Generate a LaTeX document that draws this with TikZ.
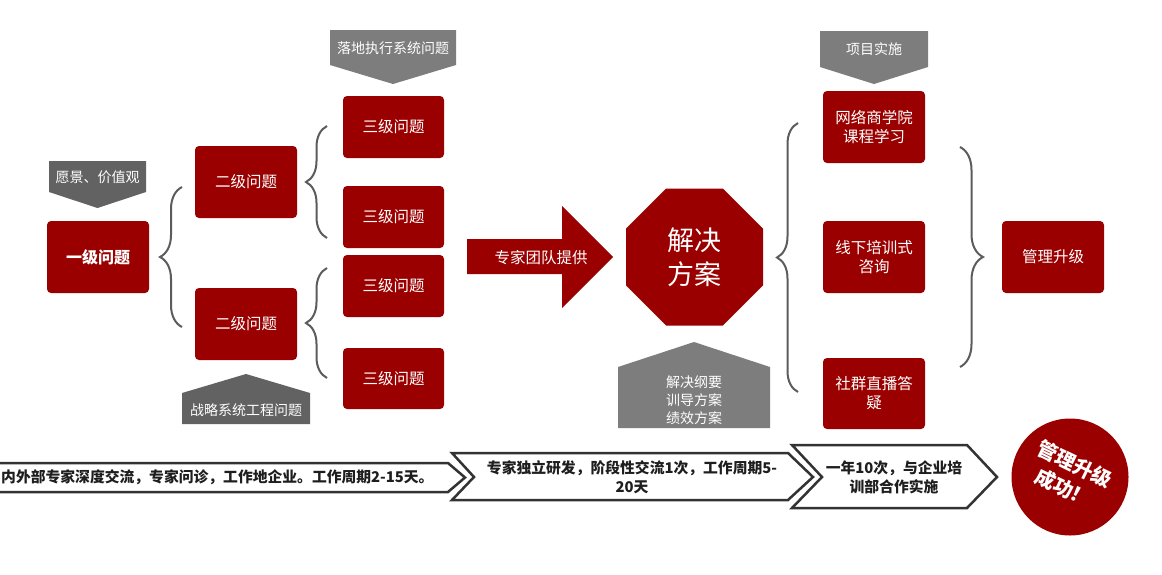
\documentclass[tikz,border=0pt]{standalone}
\usepackage{fontspec}
\setmainfont{Noto Sans CJK SC}
\usetikzlibrary{shapes.geometric,decorations.pathreplacing}
\definecolor{boxred}{RGB}{155,0,0}
\definecolor{tagdark}{RGB}{98,98,98}
\definecolor{taglight}{RGB}{125,125,125}
\definecolor{bracegray}{RGB}{92,92,92}
\definecolor{bandline}{RGB}{51,51,51}
\definecolor{bandtxt}{RGB}{30,30,30}
\begin{document}
\begin{tikzpicture}[x=1pt,y=-1pt,
  redbox/.style={fill=boxred, rounded corners=4pt, text=white, minimum width=102pt, minimum height=72pt, inner sep=0pt, align=center, font=\fontsize{15.5}{19}\selectfont},
  tagtext/.style={text=white, font=\fontsize{14}{18}\selectfont, inner sep=0pt, align=center},
  bracestyle/.style={draw=bracegray, line width=2pt, decorate, decoration={brace, amplitude=22pt}},
  band/.style={draw=bandline, line width=2.5pt, fill=white, line join=miter},
  bandtext/.style={font=\bfseries\fontsize{14.8}{19}\selectfont, text=bandtxt, inner sep=0pt, align=center},
]
\useasboundingbox (0,0) rectangle (1162,574);
\fill[white] (0,0) rectangle (1162,574);

% ---------- tags (pentagons) ----------
\fill[tagdark] (49,161) -- (146,161) -- (146,192) -- (97.5,208) -- (49,192) -- cycle;
\node[tagtext] (tagvision) at (97.5,177) {愿景、价值观};
\fill[tagdark] (182,393) -- (246,374) -- (310,393) -- (310,424) -- (182,424) -- cycle;
\node[tagtext] (tagstrat) at (246,410) {战略系统工程问题};
\fill[taglight] (330,30) -- (456,30) -- (456,65) -- (393,84) -- (330,65) -- cycle;
\node[tagtext] (tagexec) at (393,48) {落地执行系统问题};
\fill[taglight] (820,31) -- (928,31) -- (928,67) -- (874,84) -- (820,67) -- cycle;
\node[tagtext] (tagproj) at (874,49) {项目实施};
\fill[taglight] (618,367) -- (694,342) -- (770,367) -- (770,428) -- (618,428) -- cycle;
\node[tagtext] (tagsol) at (694,400) {解决纲要\\训导方案\\绩效方案};

% ---------- boxes ----------
\node[redbox, font=\bfseries\fontsize{16}{19}\selectfont] (l1) at (98,257) {一级问题};
\node[redbox] (l2a) at (246,182) {二级问题};
\node[redbox] (l2b) at (246,324) {二级问题};
\node[redbox, minimum width=101pt, minimum height=62pt] (l3a) at (393.5,127) {三级问题};
\node[redbox, minimum width=101pt, minimum height=62pt] (l3b) at (393.5,217) {三级问题};
\node[redbox, minimum width=101pt, minimum height=62pt] (l3c) at (393.5,286) {三级问题};
\node[redbox, minimum width=101pt, minimum height=61pt] (l3d) at (393.5,378.5) {三级问题};

\node[redbox] (r1) at (874,127) {网络商学院\\课程学习};
\node[redbox] (r2) at (874,257) {线下培训式\\咨询};
\node[redbox, minimum height=71pt] (r3) at (874,393.5) {社群直播答\\疑};
\node[redbox] (up) at (1053,257) {管理升级};

% ---------- arrow ----------
\fill[boxred] (467,239) -- (562,239) -- (562,206) -- (613,257) -- (562,308) -- (562,274) -- (467,274) -- cycle;
\node[text=white, font=\fontsize{15.5}{19}\selectfont, inner sep=0pt] (arrowtext) at (541,258) {专家团队提供};

% ---------- octagon ----------
\node[regular polygon, regular polygon sides=8, minimum size=148.3pt, fill=boxred, inner sep=0pt, text=white, align=center, font=\fontsize{27}{34}\selectfont] (sol) at (694.5,257) {解决\\方案};

% ---------- braces ----------
\coordinate (b1t) at (182,187); \coordinate (b1b) at (182,327);
\coordinate (b2t) at (327,126); \coordinate (b2b) at (327,238);
\coordinate (b3t) at (327,268); \coordinate (b3b) at (327,378);
\coordinate (b4t) at (798,123); \coordinate (b4b) at (798,392);
\coordinate (b5t) at (960,147); \coordinate (b5b) at (960,367);
\draw[bracestyle] (b1b) -- (b1t);
\draw[bracestyle, decoration={brace, amplitude=21pt}] (b2b) -- (b2t);
\draw[bracestyle, decoration={brace, amplitude=21pt}] (b3b) -- (b3t);
\draw[bracestyle, decoration={brace, amplitude=21pt}] (b4b) -- (b4t);
\draw[bracestyle, decoration={brace, amplitude=23pt}] (b5t) -- (b5b);

% ---------- bottom bands ----------
\draw[band] (-10,463) -- (448,463) -- (465,477.5) -- (448,492) -- (-10,492);
\node[bandtext, anchor=west] (t1) at (1,477.5) {内外部专家深度交流，专家问诊，工作地企业。工作周期2-15天。};
\draw[band] (452,453) -- (788,453) -- (813,477) -- (788,500) -- (452,500) -- (474,477) -- cycle;
\node[bandtext] (t2) at (632,477.5) {专家独立研发，阶段性交流1次，工作周期5-\\20天};
\draw[band] (792,445) -- (967,445) -- (997,477) -- (967,508) -- (792,508) -- (822,477) -- cycle;
\node[bandtext] (t3) at (894,477.5) {一年10次，与企业培\\训部合作实施};

% ---------- success circle ----------
\node[circle, fill=boxred, minimum size=117pt, inner sep=0pt] (succ) at (1070,477) {};
\node[rotate=-26, text=white, font=\bfseries\fontsize{20}{26}\selectfont, align=center, inner sep=0pt] (succtext) at (1069,476) {管理升级\\成功！};
\end{tikzpicture}
\end{document}
